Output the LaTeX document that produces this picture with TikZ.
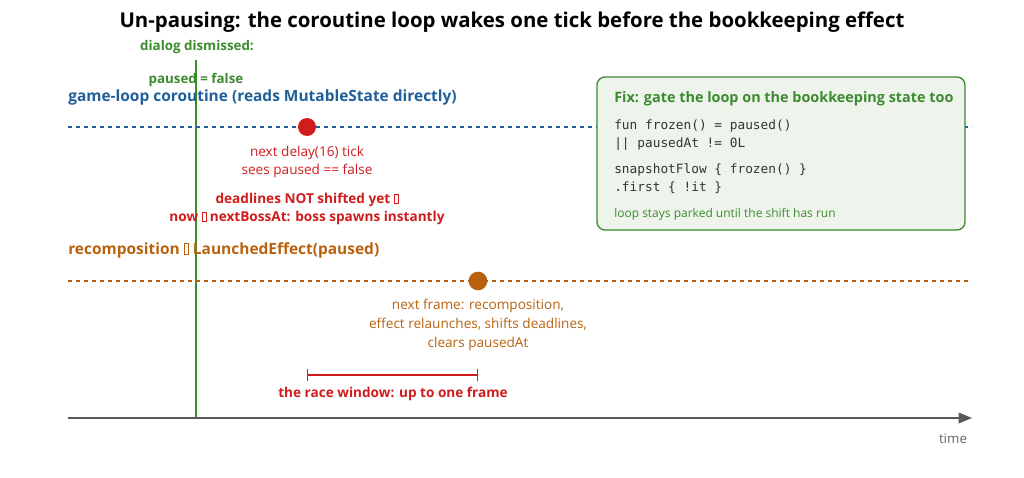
\documentclass[tikz,border=0pt]{standalone}
\usepackage{fontspec}
\setmainfont{Open Sans}
\setmonofont{DejaVu Sans Mono}
\usetikzlibrary{arrows.meta,positioning}
\definecolor{loopblue}{HTML}{1F5F9A}
\definecolor{hotred}{HTML}{D01C1C}
\definecolor{recorange}{HTML}{B8620F}
\definecolor{fixgreen}{HTML}{3C8A2E}
\definecolor{fixfill}{HTML}{EEF4EC}
\newcommand{\tofu}{\tikz[baseline=0pt]\draw[line width=0.4pt] (0,0) rectangle (0.3em,0.7em);}
\tikzset{
    lbl/.style={font=\fontsize{10}{12}\selectfont, inner sep=0pt},
    code/.style={font=\ttfamily\fontsize{9.6}{11}\selectfont, anchor=west, inner sep=0pt, text=black!80},
    track/.style={dashed, line width=0.8pt}
}
\begin{document}
\begin{tikzpicture}[x=0.75pt, y=-0.75pt]
    \useasboundingbox (0,0) rectangle (1024,478);
    \node[font=\bfseries\fontsize{15.3}{18}\selectfont] (title) at (512,22) {Un-pausing: the coroutine loop wakes one tick before the bookkeeping effect};
    % dismiss marker
    \coordinate (dtop) at (196,60);
    \coordinate (dbot) at (196,418);
    \draw[fixgreen, line width=1.6pt] (dtop) -- (dbot);
    \node[lbl, fixgreen, font=\bfseries\fontsize{10}{12}\selectfont] (dlg) at (197,47) {dialog dismissed:};
    \node[lbl, fixgreen, font=\bfseries\fontsize{10}{12}\selectfont] (pf) at (196,80) {paused = false};
    % game loop track
    \node[lbl, loopblue, font=\bfseries\fontsize{11.6}{13}\selectfont, anchor=west] (gl) at (68,97) {game-loop coroutine (reads MutableState directly)};
    \coordinate (gls) at (68,127);
    \coordinate (gle) at (972,127);
    \draw[track, loopblue] (gls) -- (gle);
    \node[circle, fill=hotred, minimum size=13.5pt, inner sep=0pt] (tick) at (307,127) {};
    \node[lbl, hotred, align=center, font=\fontsize{10.2}{13.5}\selectfont] (tickl) at (307,162) {next delay(16) tick\\sees paused == false};
    \node[lbl, hotred, align=center, font=\bfseries\fontsize{10.2}{13.5}\selectfont] (warn) at (307,209) {deadlines NOT shifted yet \tofu\\now \tofu\ nextBossAt: boss spawns instantly};
    % recomposition track
    \node[lbl, recorange, font=\bfseries\fontsize{11.6}{13}\selectfont, anchor=west] (rc) at (68,250) {recomposition \tofu\ LaunchedEffect(paused)};
    \coordinate (rcs) at (68,281);
    \coordinate (rce) at (972,281);
    \draw[track, recorange] (rcs) -- (rce);
    \node[circle, fill=recorange, minimum size=14pt, inner sep=0pt] (frame) at (478,281) {};
    \node[lbl, recorange, align=center, font=\fontsize{10.2}{14}\selectfont] (framel) at (478,325) {next frame: recomposition,\\effect relaunches, shifts deadlines,\\clears pausedAt};
    % race window
    \coordinate (ra) at (307,375);
    \coordinate (rb) at (478,375);
    \draw[hotred, line width=0.9pt, {Bar[width=9pt]}-{Bar[width=9pt]}] (ra) -- (rb);
    \node[lbl, hotred, font=\bfseries\fontsize{10.2}{12}\selectfont] (race) at (393,394) {the race window: up to one frame};
    % time axis
    \coordinate (ta) at (68,418);
    \coordinate (tb) at (972,418);
    \draw[black!65, line width=1pt, -{Triangle[length=10pt,width=8pt]}] (ta) -- (tb);
    \node[lbl, black!60, font=\fontsize{10}{12}\selectfont] (time) at (953,439) {time};
    % fix box
    \draw[fixgreen, fill=fixfill, line width=1pt, rounded corners=6pt] (597,77) rectangle (965,230);
    \node[lbl, fixgreen, font=\bfseries\fontsize{10.8}{12}\selectfont, anchor=west] (fix) at (614,99) {Fix: gate the loop on the bookkeeping state too};
    \node[code] (c1) at (614,126) {fun frozen() = paused()};
    \node[code] (c2) at (614,144) {|| pausedAt != 0L};
    \node[code] (c3) at (614,170) {snapshotFlow \{ frozen() \}};
    \node[code] (c4) at (614,188) {.first \{ !it \}};
    \node[lbl, fixgreen, font=\fontsize{9}{10}\selectfont, anchor=west] (note) at (614,214) {loop stays parked until the shift has run};
\end{tikzpicture}
\end{document}
